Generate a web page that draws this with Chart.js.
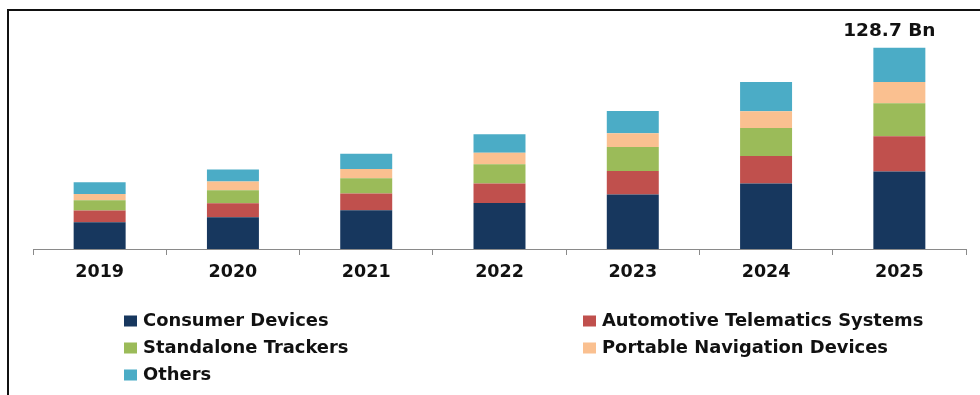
<!DOCTYPE html>
<html>
<head>
<meta charset="utf-8">
<script src="https://cdn.jsdelivr.net/npm/chart.js@4"></script>
<style>
    html, body { margin: 0; padding: 0; background: #fff; }
    #wrap { position: relative; width: 980px; height: 395px; overflow: hidden; }
    #frame {
        position: absolute; left: 7px; top: 9px; width: 980px; height: 400px;
        border-top: 2px solid #111; border-left: 2px solid #111;
    }
    canvas { position: absolute; left: 0; top: 0; }
</style>
</head>
<body>
<div id="wrap">
    <div id="frame"></div>
    <canvas id="myChart" width="980" height="395"></canvas>
</div>
<script>
// values in USD Bn
const years = ['2019', '2020', '2021', '2022', '2023', '2024', '2025'];
const consumerDevices = [17.1, 20.3, 24.7, 29.4, 34.8, 41.8, 49.6];
const automotiveTelematics = [7.5, 8.9, 10.7, 12.4, 15.1, 17.6, 22.4];
const standaloneTrackers = [6.6, 8.3, 9.8, 12.3, 15.3, 17.9, 21.1];
const portableNavigation = [4.0, 5.6, 5.9, 7.5, 8.8, 10.7, 13.6];
const others = [7.5, 7.7, 9.8, 11.7, 14.2, 18.7, 22.0];

const seriesNames = ['Consumer Devices', 'Automotive Telematics Systems', 'Standalone Trackers',
    'Portable Navigation Devices', 'Others'];
const seriesColors = ['#17375E', '#C0504D', '#9BBB59', '#FAC090', '#4BACC6'];
const seriesData = [consumerDevices, automotiveTelematics, standaloneTrackers, portableNavigation, others];

const FONT = '"DejaVu Sans", Verdana, sans-serif';

// total label over the last bar + two column legend underneath
const extras = {
    id: 'extras',
    afterDatasetsDraw(chart) {
        const ctx = chart.ctx;
        const last = chart.data.labels.length - 1;
        const topMeta = chart.getDatasetMeta(chart.data.datasets.length - 1);
        const bar = topMeta.data[last];
        const total = chart.data.datasets.reduce((s, ds) => s + ds.data[last], 0);
        ctx.save();
        ctx.fillStyle = '#111';
        ctx.font = 'bold 18.5px ' + FONT;
        ctx.textAlign = 'center';
        ctx.textBaseline = 'middle';
        ctx.fillText(total.toFixed(1) + ' Bn', bar.x - 10, bar.y - 16);

        // legend
        ctx.font = 'bold 17.9px ' + FONT;
        ctx.textAlign = 'left';
        chart.data.datasets.forEach((ds, i) => {
            const col = i % 2;
            const row = Math.floor(i / 2);
            const x = col === 0 ? 124 : 583;
            const y = 320.5 + row * 27;
            ctx.fillStyle = ds.backgroundColor;
            ctx.fillRect(x, y - 5, 13, 11);
            ctx.fillStyle = '#111';
            ctx.fillText(ds.label, x + 19, y + 1);
        });
        ctx.restore();
    }
};

const ctx = document.getElementById('myChart').getContext('2d');
const myChart = new Chart(ctx, {
    type: 'bar',
    data: {
        labels: years,
        datasets: seriesNames.map((name, i) => ({
            label: name,
            data: seriesData[i],
            backgroundColor: seriesColors[i],
            borderWidth: 0,
            barPercentage: 0.39,
            categoryPercentage: 1
        }))
    },
    options: {
        responsive: false,
        animation: false,
        layout: { padding: { left: 33, right: 14, top: 30, bottom: 106 } },
        plugins: {
            legend: { display: false },
            tooltip: { enabled: false }
        },
        scales: {
            x: {
                stacked: true,
                afterFit: s => { s.height = 40; },
                border: { color: '#8a8a8a', width: 1 },
                grid: { drawOnChartArea: false, drawTicks: true, tickLength: 6, color: '#8a8a8a', offset: true },
                ticks: { color: '#111', font: { family: FONT, size: 17.5, weight: 'bold' }, padding: 7 }
            },
            y: {
                stacked: true,
                display: false,
                min: 0,
                max: 140
            }
        }
    },
    plugins: [extras]
});
</script>
</body>
</html>
